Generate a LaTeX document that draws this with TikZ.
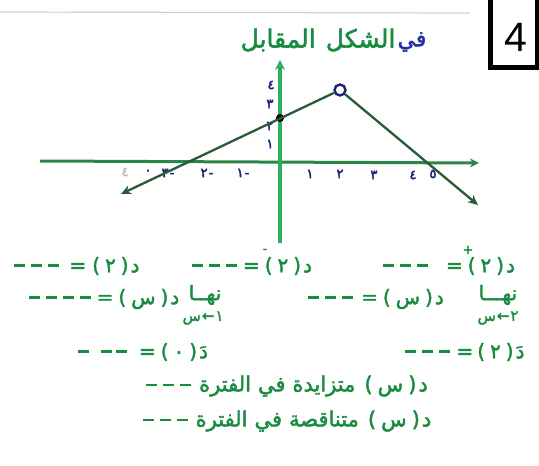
\documentclass[tikz,border=0pt]{standalone}
\usepackage{fontspec}
\usetikzlibrary{arrows.meta}
\newfontfamily\arf[Script=Arabic,FakeBold=2]{DejaVu Sans}
\newfontfamily\djf[FakeBold=2]{DejaVu Sans}
\newfontfamily\djb[FakeBold=3]{DejaVu Sans}
\newfontfamily\lsans{Liberation Sans}
\newcommand\ard[1]{\hbox{\arf #1}}
\newcommand\dig[1]{\hbox{\djf #1}}
\newcommand\eq{\hbox{\djf =}}
\newcommand\pr[1]{\hbox{\djf(}\kern5pt\hbox{#1}\kern5pt\hbox{\djf)}}
\newcommand\ds{\raisebox{5pt}{\rule{11pt}{2.8pt}}}
\newcommand\dsh{\ds\kern6pt\ds\kern6pt\ds}
\definecolor{axy}{RGB}{45,175,95}
\definecolor{axx}{RGB}{40,135,70}
\definecolor{fng}{RGB}{40,90,55}
\definecolor{navy}{RGB}{30,35,120}
\definecolor{tg}{RGB}{25,140,65}
\definecolor{tb}{RGB}{35,50,160}
\tikzset{
  axisy/.style={line width=4pt,draw=axy},
  axisx/.style={line width=3pt,draw=axx},
  fnline/.style={line width=2.3pt,draw=fng},
  tick/.style={text=navy,font=\djb\fontsize{13}{13}\selectfont,inner sep=0pt},
  txt/.style={text=tg,font=\fontsize{20}{20}\selectfont,inner sep=0pt},
  bigtxt/.style={text=tg,font=\fontsize{21}{21}\selectfont,inner sep=0pt},
  sub/.style={text=tg,font=\fontsize{15}{15}\selectfont,inner sep=0pt},
  supmark/.style={text=tg,font=\djf\fontsize{13}{13}\selectfont,inner sep=0pt},
  opencirc/.style={circle,draw=navy,line width=2.4pt,minimum size=11pt,inner sep=0pt},
  filldot/.style={circle,fill=black,minimum size=8pt,inner sep=0pt}
}
\begin{document}
\begin{tikzpicture}[x=1pt,y=-1pt]
\useasboundingbox[fill=white] (0,0) rectangle (539,466);
% faint scan line
\coordinate (g1) at (0,12); \coordinate (g2) at (470,13);
\draw[line width=1.2pt,black!18] (g1) -- (g2);
% box with 4
\draw[line width=5pt] (490.5,-6) rectangle (537,67.5);
\node[font=\lsans\fontsize{41}{41}\selectfont,inner sep=0pt] (four) at (516,37) {4};
% title
\node[text=tg,font=\fontsize{25}{25}\selectfont,inner sep=0pt] (title) at (318,40) {\ard{المقابل}\kern10pt\ard{الشكل}};
\node[text=tb,font=\fontsize{22}{22}\selectfont,inner sep=0pt] (fi) at (412,42) {\ard{في}};
% axes
\coordinate (ybot) at (280,243); \coordinate (ytop) at (280,60);
\coordinate (xl) at (40,161); \coordinate (xr) at (479,163);
\draw[axisx,-{Stealth[length=9pt,width=9pt,fill=navy!70!axx]}] (xl) -- (xr);
\draw[axisy,-{Stealth[length=10pt,width=10pt]}] (ybot) -- (ytop);
% x ticks
\node[tick] (t1) at (310,174) {١};
\node[tick] (t2) at (340,174) {٢};
\node[tick] (t3) at (374,175) {٣};
\node[tick] (t4) at (413,175) {٤};
\node[tick] (t5) at (433,174) {٥};
\node[tick] (tm1) at (243,173) {\hbox{١}\kern1pt\hbox{-}};
\node[tick] (tm2) at (207,173) {\hbox{٢}\kern1pt\hbox{-}};
\node[tick] (tm3) at (168,173) {\hbox{٣}\kern1pt\hbox{-}};
\node[tick] (t0) at (148,172) {٠};
\node[tick,text=black!25] (tm4) at (125,172) {٤};
% y ticks
\node[tick] (y4) at (271,85) {٤};
\node[tick] (y3) at (270,104) {٣};
\node[tick] (y2) at (270,126) {٢};
\node[tick] (y1) at (270,144) {١};
% graph
\node[opencirc] (oc) at (340,90) {};
\node[filldot] (fd) at (280,118) {};
\coordinate (la) at (121,194);
\coordinate (ra) at (478,205);
\draw[fnline,{Stealth[length=10pt,width=9pt]}-] (la) -- (oc);
\draw[fnline,-{Stealth[length=10pt,width=9pt]}] (oc) -- (ra);
% line 1
\node[txt] (l1a) at (77,266) {\dsh\kern10pt\eq\kern6pt\pr{\dig{٢}}\kern2pt\ard{د}};
\node[txt] (l1b) at (252,266) {\dsh\kern6pt\eq\kern5pt\pr{\dig{٢}}\kern2pt\ard{د}};
\node[supmark] (m1) at (265,251) {-};
\node[txt] (l1c) at (449,266) {\dsh\kern18pt\eq\kern5pt\pr{\dig{٢}}\kern2pt\ard{د}};
\node[supmark] (p1) at (468,250) {+};
% line 2
\node[txt] (l2a) at (104,299) {\ds\kern6pt\dsh\kern6pt\eq\kern5pt\pr{\ard{س}}\kern2pt\ard{د}};
\node[txt] (lim1) at (205,295) {\ard{نهــا}};
\node[sub] (s1) at (203,318) {\ard{س}\kern1pt\hbox{\djf ←}\kern1pt\dig{١}};
\node[txt] (l2b) at (376,299) {\dsh\kern8pt\eq\kern5pt\pr{\ard{س}}\kern2pt\ard{د}};
\node[txt] (lim2) at (498,295) {\ard{نهـــا}};
\node[sub] (s2) at (498,318) {\ard{س}\kern1pt\hbox{\djf ←}\kern1pt\dig{٢}};
% line 3
\node[txt] (l3a) at (143,352) {\ds\kern12pt\ds\kern4pt\ds\kern12pt\eq\kern5pt\pr{\dig{٠}}\kern2pt\ard{دَ}};
\node[txt] (l3b) at (465,352) {\dsh\kern6pt\eq\kern4pt\pr{\dig{٢}}\kern2pt\ard{دَ}};
% lines 4 and 5
\node[bigtxt] (l4) at (287,386) {\dsh\kern8pt\ard{الفترة}\kern7pt\ard{في}\kern7pt\ard{متزايدة}\kern9pt\pr{\ard{س}}\kern2pt\ard{د}};
\node[bigtxt] (l5) at (287,421) {\dsh\kern8pt\ard{الفترة}\kern7pt\ard{في}\kern7pt\ard{متناقصة}\kern9pt\pr{\ard{س}}\kern2pt\ard{د}};
\end{tikzpicture}
\end{document}
